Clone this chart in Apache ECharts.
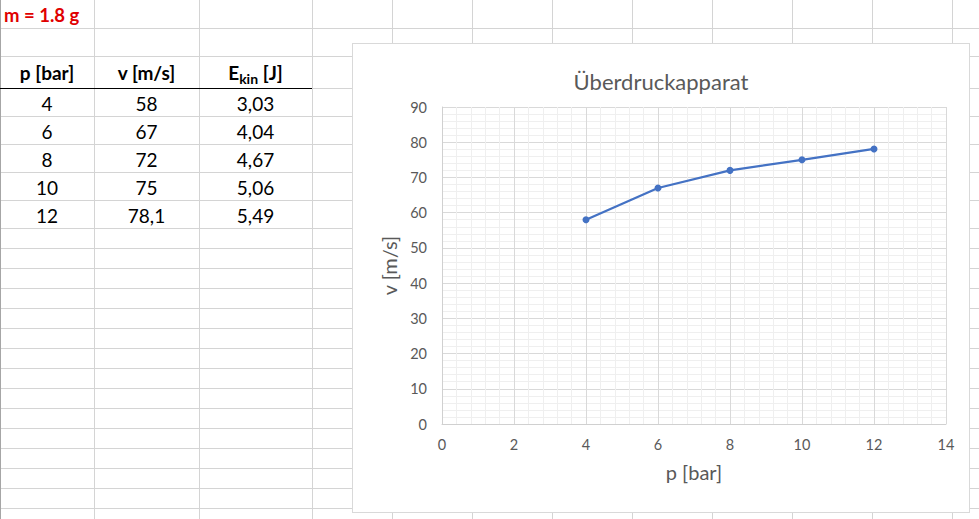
<!DOCTYPE html>
<html>
<head>
<meta charset="utf-8">
<script src="https://cdn.jsdelivr.net/npm/echarts@6/dist/echarts.min.js"></script>
<style>
  html, body { margin: 0; padding: 0; background: #fff; }
  body { width: 979px; height: 519px; position: relative; overflow: hidden; font-family: Lato, "Open Sans", sans-serif; }
  #sheet { position: absolute; left: 0; top: 0; }
  #box { position: absolute; left: 352px; top: 43px; width: 618px; height: 470px; box-sizing: border-box;
         border: 1px solid #d9d9d9; background: #fff; }
  #chart { position: absolute; left: 0; top: 0; width: 616px; height: 468px; }
</style>
</head>
<body>
<svg id="sheet" width="979" height="519" xmlns="http://www.w3.org/2000/svg"></svg>
<div id="box"><div id="chart"></div></div>
<script>
// ---- data ----
const massLabel = 'm = 1.8 g';
const headers = ['p [bar]', 'v [m/s]', 'E|kin| [J]'];
const pressure = [4, 6, 8, 10, 12];
const velocity = [58, 67, 72, 75, 78.1];
const ekin = [3.03, 4.04, 4.67, 5.06, 5.49];
const chartTitle = 'Überdruckapparat';
const xName = 'p [bar]';
const yName = 'v [m/s]';

// ---- spreadsheet background ----
const NS = 'http://www.w3.org/2000/svg';
const sheet = document.getElementById('sheet');
function el(tag, attrs, text) {
  const e = document.createElementNS(NS, tag);
  for (const k in attrs) e.setAttribute(k, attrs[k]);
  if (text !== undefined) e.textContent = text;
  sheet.appendChild(e);
  return e;
}
const rowLines = [28, 56, 88, 116, 144, 172, 200, 228];
for (let y = 248; y < 519; y += 20) rowLines.push(y);
const colLines = [94, 199, 312];
for (let x = 392; x < 979; x += 80) colLines.push(x);
rowLines.forEach(y => el('line', {x1: 0, x2: 979, y1: y + 0.5, y2: y + 0.5, stroke: '#d4d4d4', 'stroke-width': 1}));
colLines.forEach(x => el('line', {x1: x + 0.5, x2: x + 0.5, y1: 0, y2: 519, stroke: '#d4d4d4', 'stroke-width': 1}));
el('line', {x1: 0.5, x2: 0.5, y1: 0, y2: 519, stroke: '#a6a6a6', 'stroke-width': 1});
el('line', {x1: 0, x2: 312, y1: 88.5, y2: 88.5, stroke: '#000', 'stroke-width': 1});

const colCenters = [47, 146.5, 255.5];
const fam = 'Lato, "Open Sans", sans-serif';
el('text', {x: 4, y: 22, fill: '#e00000', 'font-size': 18.5, 'font-weight': 'bold', 'font-family': fam}, massLabel);
headers.forEach((h, i) => {
  const t = el('text', {x: colCenters[i], y: 80, fill: '#000', 'font-size': 19, 'font-weight': 'bold',
                        'text-anchor': 'middle', 'font-family': fam});
  const parts = h.split('|');
  parts.forEach((p, j) => {
    const ts = document.createElementNS(NS, 'tspan');
    ts.textContent = p;
    if (j === 1) { ts.setAttribute('font-size', 14); ts.setAttribute('dy', 4); }
    if (j === 2) { ts.setAttribute('dy', -4); }
    t.appendChild(ts);
  });
});
const fmt = v => String(v).replace('.', ',');
pressure.forEach((p, i) => {
  const y = 111 + 28 * i;
  [p, velocity[i], ekin[i].toFixed(2)].forEach((v, c) => {
    el('text', {x: colCenters[c], y: y, fill: '#000', 'font-size': 19, 'text-anchor': 'middle', 'font-family': fam}, fmt(v));
  });
});

// ---- chart ----
const chart = echarts.init(document.getElementById('chart'), null, {renderer: 'svg'});
const gray = '#595959';
chart.setOption({
  animation: false,
  backgroundColor: 'transparent',
  textStyle: {fontFamily: fam},
  title: {
    text: chartTitle, left: 'center', top: 21,
    textStyle: {fontSize: 22, fontWeight: 'normal', color: gray, fontFamily: fam}
  },
  grid: {left: 89, top: 63, right: 23, bottom: 88, containLabel: false},
  xAxis: {
    type: 'value', min: 0, max: 14, interval: 2,
    name: xName, nameLocation: 'middle', nameGap: 38,
    nameTextStyle: {fontSize: 20, color: gray, fontFamily: fam},
    axisLine: {show: true, lineStyle: {color: '#d0d0d0', width: 1}},
    axisTick: {show: false},
    axisLabel: {color: gray, fontSize: 14.5, margin: 13, fontFamily: fam},
    splitLine: {show: true, lineStyle: {color: '#d9d9d9', width: 1}},
    minorTick: {show: false, splitNumber: 5},
    minorSplitLine: {show: true, lineStyle: {color: '#efefef', width: 1}}
  },
  yAxis: {
    type: 'value', min: 0, max: 90, interval: 10,
    name: yName, nameLocation: 'middle', nameGap: 43, nameRotate: 90,
    nameTextStyle: {fontSize: 20, color: gray, fontFamily: fam},
    axisLine: {show: true, lineStyle: {color: '#d0d0d0', width: 1}},
    axisTick: {show: false},
    axisLabel: {color: gray, fontSize: 14.5, margin: 15, fontFamily: fam},
    splitLine: {show: true, lineStyle: {color: '#d9d9d9', width: 1}},
    minorTick: {show: false, splitNumber: 5},
    minorSplitLine: {show: true, lineStyle: {color: '#efefef', width: 1}}
  },
  series: [{
    type: 'line',
    data: pressure.map((p, i) => [p, velocity[i]]),
    symbol: 'circle', symbolSize: 7,
    lineStyle: {color: '#4472C4', width: 2.25},
    itemStyle: {color: '#4472C4'},
    z: 5
  }]
});
</script>
</body>
</html>
